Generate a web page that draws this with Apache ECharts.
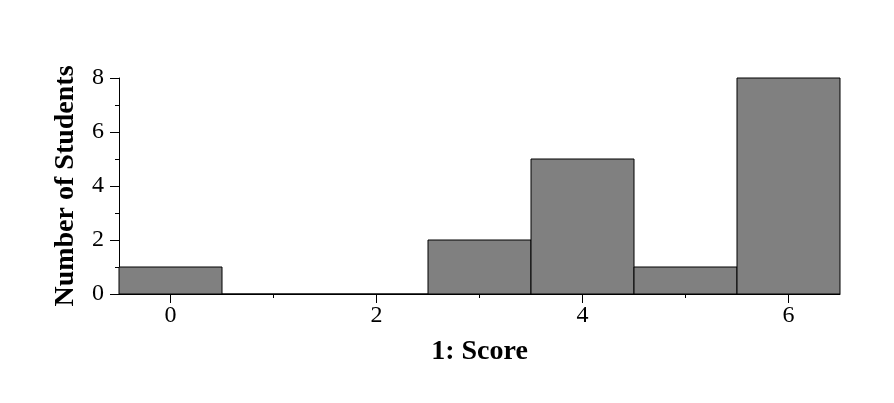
<!DOCTYPE html>
<html><head><meta charset="utf-8">
<script src="https://cdn.jsdelivr.net/npm/echarts@6/dist/echarts.min.js"></script>
<style>html,body{margin:0;padding:0;background:#fff}#c{width:894px;height:403px}</style>
</head><body><div id="c"></div>
<script>
const binStarts = [-0.5, 0.5, 1.5, 2.5, 3.5, 4.5, 5.5];
const binEnds = [0.5, 1.5, 2.5, 3.5, 4.5, 5.5, 6.5];
const counts = [1, 0, 0, 2, 5, 1, 8];
const xMajorTicks = [0, 2, 4, 6];
const xMinorTicks = [1, 3, 5];
const xTitle = '1: Score';
const yTitle = 'Number of Students';

const font = '"Liberation Serif", "Times New Roman", serif';
const data = counts.map((c, i) => [binStarts[i], binEnds[i], c]);
const chart = echarts.init(document.getElementById('c'));
chart.setOption({
  animation: false,
  grid: {left: 119, right: 54, top: 78, bottom: 109},
  xAxis: [{
    type: 'value', min: -0.5, max: 6.5,
    name: xTitle, nameLocation: 'middle', nameGap: 44,
    nameTextStyle: {fontFamily: font, fontWeight: 'bold', fontSize: 28, color: '#000'},
    axisLine: {show: true, onZero: false, lineStyle: {color: '#000', width: 1}},
    axisTick: {show: true, customValues: xMajorTicks, length: 9, inside: false, lineStyle: {color: '#000'}},
    axisLabel: {customValues: xMajorTicks, fontFamily: font, fontSize: 24, color: '#000', margin: 10},
    splitLine: {show: false}
  }, {
    type: 'value', min: -0.5, max: 6.5, position: 'bottom', gridIndex: 0,
    axisLine: {show: false, onZero: false},
    axisTick: {show: true, customValues: xMinorTicks, length: 4, lineStyle: {color: '#000'}},
    axisLabel: {show: false},
    splitLine: {show: false}
  }],
  yAxis: {
    type: 'value', min: 0, max: 8, interval: 2,
    name: yTitle, nameLocation: 'middle', nameGap: 39,
    nameTextStyle: {fontFamily: font, fontWeight: 'bold', fontSize: 28, color: '#000'},
    axisLine: {show: true, onZero: false, lineStyle: {color: '#000', width: 1}},
    axisTick: {show: true, length: 9, lineStyle: {color: '#000'}},
    minorTick: {show: true, splitNumber: 2, length: 4, lineStyle: {color: '#000'}},
    axisLabel: {fontFamily: font, fontSize: 24, color: '#000', margin: 15},
    splitLine: {show: false}
  },
  series: [{
    type: 'custom',
    xAxisIndex: 0,
    data: data,
    encode: {x: [0, 1], y: 2},
    renderItem: function (params, api) {
      const p0 = api.coord([api.value(0), api.value(2)]);
      const p1 = api.coord([api.value(1), 0]);
      return {
        type: 'rect',
        shape: {x: p0[0], y: p0[1], width: p1[0] - p0[0], height: p1[1] - p0[1]},
        style: {fill: '#808080', stroke: '#000', lineWidth: 1}
      };
    }
  }]
});
</script></body></html>
